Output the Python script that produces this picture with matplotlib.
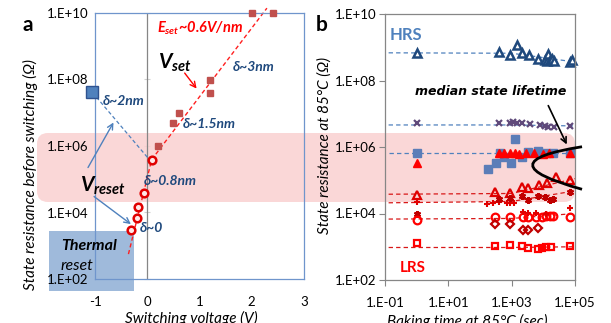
import numpy as np
import matplotlib
matplotlib.use("Agg")
import matplotlib.pyplot as plt
from matplotlib.patches import FancyBboxPatch, Rectangle, PathPatch
from matplotlib.path import Path
from matplotlib.transforms import IdentityTransform

plt.rcParams['font.family'] = ['Lato', 'DejaVu Sans']
plt.rcParams['mathtext.fontset'] = 'custom'
plt.rcParams['mathtext.it'] = 'Lato:bold:italic'
plt.rcParams['mathtext.rm'] = 'Lato:bold:italic'
plt.rcParams['mathtext.bf'] = 'Lato:bold:italic'

# ---------------- Panel a data ----------------
vset_v = [0.21, 0.50, 0.61, 1.20, 1.20, 2.00, 2.41]
vset_r = [1.0e6, 4.9e6, 9.8e6, 3.9e7, 1.0e8, 1.0e10, 1.0e10]
vreset_v = [0.085, -0.056, -0.18, -0.20, -0.31]
vreset_r = [3.9e5, 3.8e4, 1.5e4, 6.8e3, 2.9e3]
hrs_reset_v = [-1.05]
hrs_reset_r = [4.1e7]
fit_v = [-0.36, 0.085, 2.29]
fit_r = [5.6e2, 3.9e5, 1.4e10]
reset_link_v = [-1.05, 0.04]
reset_link_r = [4.1e7, 3.9e5]
xticks_a = [-1, 0, 1, 2, 3]
yticks = [1e2, 1e4, 1e6, 1e8, 1e10]
ytick_labels = ['1.E+02', '1.E+04', '1.E+06', '1.E+08', '1.E+10']

# ---------------- Panel b data ----------------
line_t = [0.13, 1000, 1e5]
hrs_t = [1, 410, 890, 1450, 2100, 3600, 6900, 11200, 13000, 14500, 16000, 18200, 21000, 72000, 80000]
hrs_r = [6.6e8, 7.2e8, 5.9e8, 1.17e9, 6.8e8, 5.9e8, 4.4e8, 4.1e8, 3.8e8, 6.3e8, 4.2e8, 4.4e8, 3.9e8, 3.6e8, 4.0e8]
hrs_line = [6.8e8, 6.6e8, 3.6e8]

px_t = [1, 410, 890, 1120, 1500, 2100, 3800, 7800, 11200, 14500, 21000, 69000]
px_r = [5.1e6, 5.4e6, 5.4e6, 5.6e6, 5.1e6, 5.1e6, 4.9e6, 4.6e6, 4.3e6, 4.1e6, 4.1e6, 4.4e6]
px_line = [4.6e6, 4.6e6, 4.3e6]

sq_t = [1, 180, 320, 430, 580, 930, 1260, 2100, 3400, 6900, 12000, 20000, 72000]
sq_r = [6.6e5, 2.2e5, 3.3e5, 6.4e5, 5.0e5, 3.2e5, 1.8e6, 5.0e5, 7.1e5, 7.6e5, 6.8e5, 6.6e5, 6.6e5]
sq_line = [6.6e5, 6.6e5, 6.6e5]

ft_t = [1, 410, 590, 890, 1260, 1700, 2800, 5000, 10000, 15000, 69000]
ft_r = [3.3e5, 6.5e5, 6.6e5, 6.4e5, 6.5e5, 6.3e5, 6.5e5, 6.8e5, 6.3e5, 6.6e5, 6.4e5]

ot_t = [1, 300, 890, 2100, 3400, 7400, 12900, 26000, 72000]
ot_r = [3.5e4, 4.5e4, 4.2e4, 6.3e4, 6.0e4, 7.1e4, 8.3e4, 1.26e5, 1.05e5]
ot_line = [3.8e4, 4.0e4, 1.12e5]

pl_t = [1, 170, 250, 410, 700, 900, 1200]
pl_r = [2.2e4, 1.9e4, 2.0e4, 2.2e4, 2.0e4, 2.1e4, 2.0e4]
st_t = [1, 410, 900, 2100, 3400, 6900, 11000, 16000, 20000, 72000]
st_r = [1.0e4, 2.8e4, 3.0e4, 3.3e4, 2.5e4, 3.3e4, 3.2e4, 2.6e4, 2.8e4, 4.5e4]
pl_line = [2.1e4, 2.3e4, 4.8e4]

ci_t = [1, 300, 890, 2200, 3400, 6000, 9000, 12000, 16000, 20000, 72000]
ci_r = [6.3e3, 7.9e3, 7.6e3, 7.6e3, 7.9e3, 7.6e3, 7.9e3, 8.3e3, 8.3e3, 8.3e3, 7.6e3]
cp_t = [2200, 3400, 6000, 12000, 72000]
cp_r = [1.12e4, 1.05e4, 1.05e4, 1.0e4, 1.5e4]
ci_line = [6.8e3, 7.1e3, 1.0e4]

di_t = [300, 890, 2200, 3400, 6900]
di_r = [5.0e3, 4.7e3, 3.1e3, 3.2e3, 3.7e3]

os_t = [1, 300, 890, 2100, 3400, 6900, 9000, 12000, 18000, 72000]
os_r = [1.3e3, 1.02e3, 1.1e3, 1.02e3, 9.3e2, 8.7e2, 9.3e2, 9.8e2, 9.8e2, 1.02e3]
os_line = [9.5e2, 9.5e2, 1.0e3]

xticks_b = [1e-1, 1e1, 1e3, 1e5]
xtick_labels_b = ['1.E-01', '1.E+01', '1.E+03', '1.E+05']

W, H = 611, 323
fig = plt.figure(figsize=(W / 100, H / 100), dpi=100)
fig.patch.set_facecolor('white')

def fx(p):
    return p / W

def fy(p):
    return 1 - p / H

ax_a = fig.add_axes([fx(95), fy(279), (304 - 95) / W, (279 - 13) / H])
ax_b = fig.add_axes([fx(385), fy(280), 190 / W, 266 / H])
for ax in (ax_a, ax_b):
    ax.set_facecolor('none')

tick_fs = 9.5
blue_frame = '#6F95CC'
gray = '#868686'
navy = '#1F497D'

# pink band spanning both panels (pixel coordinates)
band = FancyBboxPatch((37, H - 202), 575 - 37, 202 - 133,
                      boxstyle="round,pad=0,rounding_size=11", transform=IdentityTransform(),
                      facecolor='#FAD0D0', edgecolor='none', alpha=0.85, zorder=0.2, clip_on=False)
ax_a.add_patch(band)

# ---------------- Panel a ----------------
ax = ax_a
ax.set_yscale('log')
ax.set_xlim(-1, 3)
ax.set_ylim(1e2, 1e10)
for s in ax.spines.values():
    s.set_color(blue_frame)
    s.set_linewidth(0.9)
ax.set_yticks(yticks)
ax.set_yticklabels(ytick_labels)
ax.yaxis.set_minor_locator(matplotlib.ticker.NullLocator())
ax.set_xticks(xticks_a)
ax.set_xticklabels([str(v) for v in xticks_a])
ax.tick_params(axis='y', length=0, pad=5, labelsize=tick_fs)
ax.tick_params(axis='x', length=0, pad=12, labelsize=tick_fs)
ax.axvline(0, color=gray, lw=0.9, zorder=1)
sec = ax.secondary_yaxis(0.25)
sec.spines['left'].set_visible(False)
sec.set_yticks(yticks)
sec.yaxis.set_minor_locator(matplotlib.ticker.NullLocator())
sec.tick_params(axis='y', direction='inout', length=5, color='#D0D0D0', labelleft=False)

# thermal reset box
ax.add_patch(Rectangle((49, H - 291), 134 - 49, 291 - 231,
                       transform=IdentityTransform(), facecolor='#95B3D7', edgecolor='none',
                       alpha=0.9, zorder=1, clip_on=False))
fig.text(fx(61), fy(246), 'Thermal', fontsize=11.5, fontweight='bold', fontstyle='italic',
         va='center', ha='left', color='black')
fig.text(fx(61), fy(266), 'reset', fontsize=11.5, fontstyle='italic', va='center', ha='left',
         color='black')

ax.plot(fit_v, fit_r, ls=(0, (3, 2)), color='#FF2020', lw=1.0, zorder=2, clip_on=False)
ax.plot(reset_link_v, reset_link_r, ls=(0, (3, 2)), color='#4F81BD', lw=0.9, zorder=2)
ax.plot(vset_v, vset_r, ls='none', marker='s', ms=4.8, color='#C0504D', zorder=3, clip_on=False)
ax.plot(vreset_v, vreset_r, ls='none', marker='o', ms=5.5, mfc='#FFE8E8', mec='#E00000',
        mew=1.8, zorder=4, clip_on=False)
ax.plot(hrs_reset_v, hrs_reset_r, ls='none', marker='s', ms=8, mfc='#4F81BD', mec='#2F528F',
        mew=1, zorder=4, clip_on=False)

dfs = 10
ax.text(-0.85, 10**7.35, 'δ~2nm', color=navy, fontsize=dfs, fontweight='bold', fontstyle='italic', va='center')
ax.text(1.64, 10**8.38, 'δ~3nm', color=navy, fontsize=dfs, fontweight='bold', fontstyle='italic', va='center')
ax.text(0.68, 10**6.66, 'δ~1.5nm', color=navy, fontsize=dfs, fontweight='bold', fontstyle='italic', va='center')
ax.text(-0.06, 10**4.95, 'δ~0.8nm', color=navy, fontsize=dfs, fontweight='bold', fontstyle='italic', va='center')
ax.text(-0.14, 10**3.53, 'δ~0', color=navy, fontsize=dfs, fontweight='bold', fontstyle='italic', va='center')
ax.text(0.19, 10**9.55, r'$E_{set}$~0.6V/nm', color='#FF0000', fontsize=10.5, fontweight='bold',
        fontstyle='italic', va='center')
ax.text(0.21, 10**8.5, r'$V_{set}$', color='black', fontsize=15, va='center')
ax.text(-1.29, 10**4.8, r'$V_{reset}$', color='black', fontsize=15, va='center')

ax.annotate('', xy=(-0.62, 10**6.78), xytext=(-1.16, 10**5.28),
            arrowprops=dict(arrowstyle='->', color='#4F81BD', lw=1.0), annotation_clip=False)
ax.annotate('', xy=(-0.27, 10**3.6), xytext=(-1.06, 10**4.53),
            arrowprops=dict(arrowstyle='->', color='#4F81BD', lw=1.0), annotation_clip=False)
ax.annotate('', xy=(0.977, 10**7.66), xytext=(0.684, 10**8.26),
            arrowprops=dict(arrowstyle='->', color='#FF0000', lw=1.0), annotation_clip=False)

fig.text(fx(30), fy(175), 'State resistance before switching (Ω)', rotation=90, fontsize=11,
         fontstyle='italic', ha='center', va='center')
fig.text(fx(191), fy(311), 'Switching voltage (V)', fontsize=11, fontstyle='italic',
         ha='center', va='top')
fig.text(fx(28), fy(25), 'a', fontsize=15, fontweight='bold', ha='center', va='center')
fig.text(fx(322), fy(25), 'b', fontsize=15, fontweight='bold', ha='center', va='center')

# ---------------- Panel b ----------------
ax = ax_b
ax.set_xscale('log')
ax.set_yscale('log')
ax.set_xlim(1e-1, 1e5)
ax.set_ylim(1e2, 1e10)
for s in ax.spines.values():
    s.set_color(gray)
    s.set_linewidth(0.9)
ax.set_yticks(yticks)
ax.set_yticklabels(ytick_labels)
ax.set_xticks(xticks_b)
ax.set_xticklabels(xtick_labels_b)
ax.xaxis.set_minor_locator(matplotlib.ticker.NullLocator())
ax.yaxis.set_minor_locator(matplotlib.ticker.NullLocator())
ax.tick_params(axis='both', length=4, color=gray, labelsize=tick_fs, direction='out')
ax.tick_params(axis='y', pad=2)
ax.tick_params(axis='x', pad=8)

lb = '#4F81BD'
lr = '#D81818'
dash = (0, (3.5, 2.5))
ax.plot(line_t, hrs_line, ls=dash, color=lb, lw=0.9, clip_on=False)
ax.plot(line_t, px_line, ls=dash, color=lb, lw=0.9, clip_on=False)
ax.plot(line_t, sq_line, ls=dash, color=lb, lw=0.9, clip_on=False)
ax.plot(line_t, ot_line, ls=dash, color=lr, lw=0.9, clip_on=False)
ax.plot(line_t, pl_line, ls=dash, color=lr, lw=0.9, clip_on=False)
ax.plot(line_t, ci_line, ls=dash, color=lr, lw=0.9, clip_on=False)
ax.plot(line_t, os_line, ls=dash, color=lr, lw=0.9, clip_on=False)

ax.plot(hrs_t, hrs_r, ls='none', marker='^', ms=5.5, mfc='white', mec=navy, mew=1.8, clip_on=False)
ax.plot(px_t, px_r, ls='none', marker='x', ms=4, mec='#604A7B', mew=1.6, clip_on=False)
ax.plot(sq_t, sq_r, ls='none', marker='s', ms=5.5, color='#5B7DB8', clip_on=False)
ax.plot(ft_t, ft_r, ls='none', marker='^', ms=6, color='#FF0000', clip_on=False)
ax.plot(ot_t, ot_r, ls='none', marker='^', ms=5.5, mfc='none', mec='#E00000', mew=1.6, clip_on=False)
ax.plot(pl_t, pl_r, ls='none', marker='+', ms=4, mec='#E00000', mew=1.5, clip_on=False)
ax.plot(st_t, st_r, ls='none', marker=(6, 2, 0), ms=5, mec='#C00000', mew=1.5, clip_on=False)
ax.plot(ci_t, ci_r, ls='none', marker='o', ms=5.5, mfc='none', mec='#FF0000', mew=1.6, clip_on=False)
ax.plot(cp_t, cp_r, ls='none', marker='+', ms=4, mec='#E00000', mew=1.5, clip_on=False)
ax.plot(di_t, di_r, ls='none', marker='D', ms=4.5, mfc='none', mec='#C00000', mew=1.6, clip_on=False)
ax.plot(os_t, os_r, ls='none', marker='s', ms=5, mfc='none', mec='#FF0000', mew=1.6, clip_on=False)

ax.text(0.026, 0.921, 'HRS', transform=ax.transAxes, color='#4F81BD', fontsize=12,
        fontweight='bold', va='center', ha='left')
ax.text(0.079, 0.045, 'LRS', transform=ax.transAxes, color='#FF0000', fontsize=11,
        fontweight='bold', va='center', ha='left')
ax.text(0.16, 0.707, 'median state lifetime', transform=ax.transAxes, color='black', fontsize=9,
        fontweight='bold', fontstyle='italic', va='center', ha='left', family='DejaVu Sans')
ax.annotate('', xy=(0.963, 0.5), xytext=(0.853, 0.665), xycoords='axes fraction',
            textcoords='axes fraction',
            arrowprops=dict(arrowstyle='->', color='black', lw=1.2), annotation_clip=False)
curve = Path([(1.037, 0.501), (0.517, 0.443), (1.037, 0.341)],
             [Path.MOVETO, Path.CURVE3, Path.CURVE3])
ax.add_patch(PathPatch(curve, transform=ax.transAxes, facecolor='none', edgecolor='black',
                       lw=2.0, clip_on=False, zorder=5))

fig.text(fx(325), fy(145), 'State resistance at 85°C (Ω)', rotation=90, fontsize=11,
         fontstyle='italic', ha='center', va='center')
fig.text(fx(467), fy(314), 'Baking time at 85°C (sec)', fontsize=11, fontstyle='italic',
         ha='center', va='top')

fig.savefig('out.png', dpi=100, facecolor='white')
